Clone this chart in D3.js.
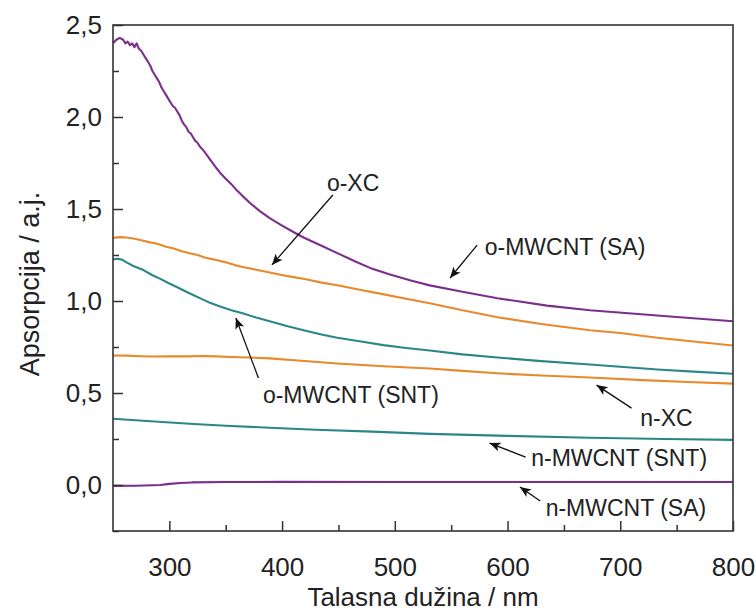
<!DOCTYPE html>
<html>
<head>
<meta charset="utf-8">
<script src="https://cdn.jsdelivr.net/npm/d3@7/dist/d3.min.js"></script>
<style>
  html, body { margin: 0; padding: 0; background: #fff; }
  svg { display: block; }
  text { font-family: "Liberation Sans", Arial, sans-serif; fill: #222; }
</style>
</head>
<body>
<script>
// ---------- data (wavelength nm, absorbance a.u.) ----------
const oMWCNT_SA = [[250,2.40],[253,2.42],[256,2.43],[259,2.42],[261,2.40],[263,2.41],[265,2.39],[267,2.40],[269,2.38],[271,2.40],[273,2.37],[275,2.36],[277,2.34],[279,2.32],[281,2.30],[283,2.28],[285,2.25],[287,2.23],[289,2.21],[291,2.19],[293,2.16],[295,2.14],[297,2.12],[299,2.10],[301,2.08],[303,2.06],[305,2.05],[307,2.03],[309,2.01],[311,1.98],[313,1.96],[315,1.945],[317,1.92],[319,1.91],[321,1.89],[323,1.87],[325,1.86],[327,1.84],[330,1.82],[333,1.795],[336,1.77],[339,1.745],[342,1.72],[346,1.69],[350,1.665],[355,1.635],[360,1.60],[365,1.57],[372,1.53],[380,1.49],[389,1.45],[400,1.41],[410,1.375],[419,1.345],[435,1.30],[449,1.26],[465,1.215],[478,1.18],[495,1.145],[515,1.11],[531,1.085],[560,1.05],[591,1.015],[635,0.975],[673,0.95],[710,0.932],[750,0.913],[800,0.89]];
const oXC = [[250,1.343],[256,1.347],[262,1.345],[268,1.34],[275,1.33],[282,1.32],[290,1.31],[297,1.295],[304,1.285],[311,1.27],[318,1.26],[325,1.25],[332,1.235],[340,1.225],[350,1.21],[358,1.195],[365,1.185],[377,1.17],[389,1.155],[405,1.135],[420,1.12],[435,1.10],[449,1.086],[470,1.06],[487,1.04],[510,1.012],[531,0.988],[560,0.95],[591,0.912],[630,0.875],[673,0.841],[700,0.826],[733,0.80],[765,0.78],[800,0.758]];
const oMWCNT_SNT = [[250,1.226],[254,1.23],[258,1.225],[262,1.21],[268,1.19],[277,1.168],[285,1.14],[292,1.12],[300,1.095],[307,1.075],[315,1.05],[322,1.03],[329,1.01],[336,0.99],[345,0.97],[355,0.95],[365,0.933],[377,0.91],[389,0.89],[405,0.863],[420,0.84],[435,0.818],[449,0.80],[470,0.78],[490,0.76],[510,0.745],[531,0.731],[560,0.71],[591,0.693],[630,0.673],[673,0.655],[700,0.643],[733,0.628],[765,0.616],[800,0.605]];
const nXC = [[250,0.704],[262,0.703],[275,0.700],[285,0.698],[300,0.700],[315,0.699],[330,0.701],[342,0.699],[355,0.696],[370,0.693],[389,0.688],[420,0.674],[449,0.66],[490,0.645],[531,0.633],[560,0.62],[591,0.607],[630,0.595],[673,0.584],[720,0.57],[760,0.56],[800,0.551]];
const nMWCNT_SNT = [[250,0.36],[280,0.348],[318,0.333],[350,0.322],[389,0.311],[430,0.30],[480,0.29],[531,0.278],[600,0.267],[673,0.257],[740,0.25],[800,0.245]];
const nMWCNT_SA = [[250,-0.005],[270,-0.004],[285,-0.001],[292,0.0],[300,0.006],[310,0.011],[320,0.014],[350,0.016],[400,0.017],[500,0.016],[600,0.016],[700,0.016],[800,0.016]];

const xTicks = [300, 400, 500, 600, 700, 800];
const xMinorTicks = [350, 450, 550, 650, 750];
const yTicks = [0.0, 0.5, 1.0, 1.5, 2.0, 2.5];
const yMinorTicks = [-0.25, 0.25, 0.75, 1.25, 1.75, 2.25];

const seriesNames = ["o-MWCNT (SA)", "o-XC", "o-MWCNT (SNT)", "n-XC", "n-MWCNT (SNT)", "n-MWCNT (SA)"];
const seriesData = [oMWCNT_SA, oXC, oMWCNT_SNT, nXC, nMWCNT_SNT, nMWCNT_SA];
const seriesColors = ["#7b2f8c", "#e8892c", "#2b8787", "#e8892c", "#2b8787", "#7b2f8c"];

// annotation labels: text, text anchor point, arrow tail, arrow tip (data coords)
const annLabels = ["o-XC", "o-MWCNT (SA)", "o-MWCNT (SNT)", "n-XC", "n-MWCNT (SNT)", "n-MWCNT (SA)"];
const annText = [[463,1.641],[651,1.293],[461,0.489],[741,0.364],[699,0.147],[705,-0.125]];
const annTail = [[445,1.576],[573,1.304],[379,0.582],[710,0.418],[616,0.152],[629,-0.087]];
const annTip  = [[391,1.196],[549,1.125],[359,0.908],[679,0.543],[584,0.228],[611,-0.011]];

const xTitle = "Talasna dužina / nm";
const yTitle = "Apsorpcija / a.j.";

// ---------- drawing ----------
const W = 756, H = 612;
const mLeft = 113, mRight = 733, mTop = 25, mBottom = 531;

const svg = d3.select("body").append("svg").attr("width", W).attr("height", H);

const defs = svg.append("defs");
defs.append("marker").attr("id", "ah").attr("viewBox", "0 0 10 10")
  .attr("refX", 10).attr("refY", 5).attr("markerWidth", 11).attr("markerHeight", 11)
  .attr("markerUnits", "userSpaceOnUse").attr("orient", "auto")
  .append("path").attr("d", "M0,0.8 L10,5 L0,9.2 L2.5,5 Z").attr("fill", "#111");
defs.append("clipPath").attr("id", "clip").append("rect")
  .attr("x", mLeft).attr("y", mTop).attr("width", mRight - mLeft).attr("height", mBottom - mTop);

const x = d3.scaleLinear().domain([250, 800]).range([mLeft, mRight]);
const y = d3.scaleLinear().domain([-0.25, 2.5]).range([mBottom, mTop]);

const line = d3.line().x(d => x(d[0])).y(d => y(d[1]));

const g = svg.append("g").attr("clip-path", "url(#clip)");
seriesData.forEach((s, i) => {
  g.append("path").datum(s).attr("d", line)
    .attr("fill", "none").attr("stroke", seriesColors[i])
    .attr("stroke-width", 2.1).attr("stroke-linejoin", "round");
});

const fmt = v => d3.format(".1f")(v).replace(".", ",");

// axes
const xAxis = svg.append("g").attr("transform", `translate(0,${mBottom})`)
  .call(d3.axisBottom(x).tickValues(xTicks).tickSize(-10).tickPadding(27).tickFormat(d3.format("d")));
const xMinor = svg.append("g").attr("transform", `translate(0,${mBottom})`)
  .call(d3.axisBottom(x).tickValues(xMinorTicks).tickSize(-6).tickFormat(""));
const yAxis = svg.append("g").attr("transform", `translate(${mLeft},0)`)
  .call(d3.axisLeft(y).tickValues(yTicks).tickSize(-10).tickPadding(11).tickFormat(fmt));
const yMinor = svg.append("g").attr("transform", `translate(${mLeft},0)`)
  .call(d3.axisLeft(y).tickValues(yMinorTicks).tickSize(-6).tickFormat(""));

[xAxis, xMinor, yAxis, yMinor].forEach(a => {
  a.select(".domain").remove();
  a.selectAll(".tick line").attr("stroke", "#333").attr("stroke-width", 1.5);
  a.selectAll("text").attr("font-size", 26).attr("fill", "#222")
    .attr("font-family", "'Liberation Sans', Arial, sans-serif");
});

// frame
svg.append("rect").attr("x", mLeft).attr("y", mTop)
  .attr("width", mRight - mLeft).attr("height", mBottom - mTop)
  .attr("fill", "none").attr("stroke", "#333").attr("stroke-width", 1.6);

// axis titles
svg.append("text").attr("x", (mLeft + mRight) / 2).attr("y", 606)
  .attr("text-anchor", "middle").attr("font-size", 26).text(xTitle);
svg.append("text").attr("transform", `translate(39,284) rotate(-90)`)
  .attr("text-anchor", "middle").attr("font-size", 27).text(yTitle);

// annotations
annLabels.forEach((t, i) => {
  svg.append("text").attr("x", x(annText[i][0])).attr("y", y(annText[i][1]))
    .attr("dy", "0.36em").attr("text-anchor", "middle")
    .attr("font-size", 23).text(t);
  svg.append("line")
    .attr("x1", x(annTail[i][0])).attr("y1", y(annTail[i][1]))
    .attr("x2", x(annTip[i][0])).attr("y2", y(annTip[i][1]))
    .attr("stroke", "#111").attr("stroke-width", 1.3)
    .attr("marker-end", "url(#ah)");
});
</script>
</body>
</html>
